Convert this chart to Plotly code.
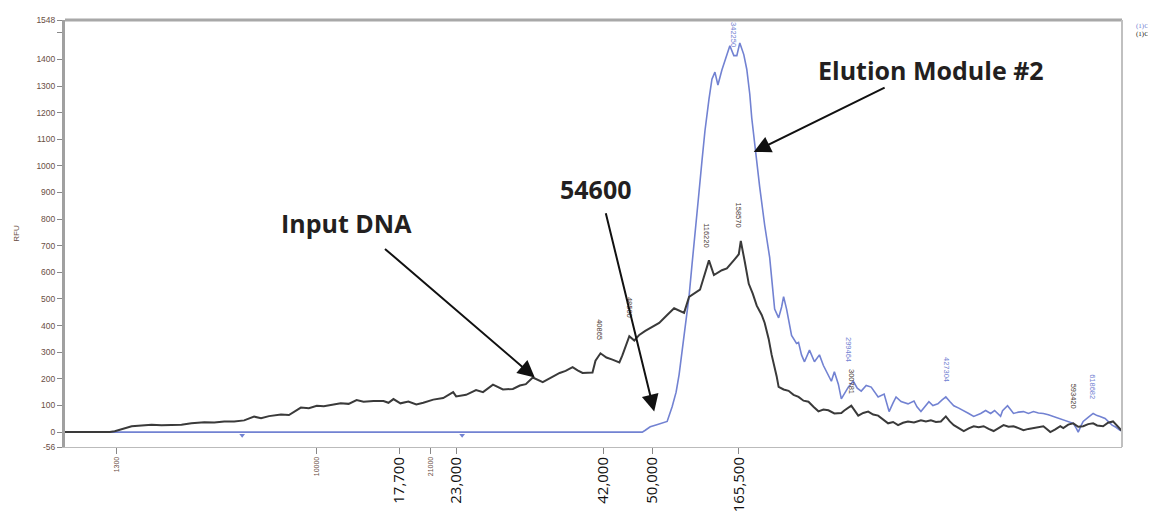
import plotly.graph_objects as go

# ---- data: x in scan units, y in RFU ----
input_scan = [0, 45, 50, 57, 67, 77, 87, 97, 107, 117, 127, 140, 150, 160, 170, 180, 190, 197, 205,
              217, 225, 237, 245, 253, 260, 270, 277, 285, 293, 300, 310, 320, 325, 330, 337, 345,
              353, 360, 370, 380, 390, 393, 403, 413, 420, 430, 440, 450, 457, 463, 470, 480, 488,
              497, 503, 510, 515, 520, 530, 533, 538, 544, 550, 557, 560, 567, 572, 577, 583, 590,
              597, 605, 612, 622, 627, 638, 643, 647, 652, 660, 665, 668, 673, 677, 679, 683, 687,
              691, 695, 700, 703, 707, 710, 715, 717, 722, 727, 732, 737, 742, 747, 752, 757, 762,
              767, 773, 780, 783, 790, 797, 802, 807, 812, 817, 822, 827, 832, 837, 842, 847, 853,
              860, 865, 870, 875, 880, 885, 889, 893, 898, 903, 908, 913, 918, 923, 928, 933, 938,
              943, 948, 953, 958, 963, 968, 973, 978, 983, 987, 990, 995, 1000, 1003, 1008, 1013,
              1018, 1023, 1028, 1033, 1037, 1043, 1048, 1053, 1057, 1062]
input_rfu = [0, 0, 3, 12, 22, 25, 28, 26, 27, 28, 33, 37, 36, 40, 40, 44, 58, 52, 60,
             66, 64, 92, 90, 99, 97, 104, 108, 106, 120, 114, 117, 117, 110, 124, 108, 115,
             104, 110, 122, 128, 150, 134, 140, 158, 150, 178, 160, 162, 175, 180, 205, 188, 205,
             222, 230, 244, 232, 222, 224, 268, 296, 280, 272, 262, 288, 360, 344, 365, 380, 395,
             410, 440, 465, 448, 508, 535, 600, 645, 590, 608, 615, 627, 650, 668, 718, 640, 557,
             520, 475, 440, 410, 350, 290, 210, 170, 160, 155, 140, 132, 118, 114, 95, 78, 85,
             82, 70, 72, 81, 99, 62, 72, 77, 66, 62, 48, 33, 38, 26, 35, 40, 36,
             44, 40, 44, 38, 40, 59, 40, 26, 15, 4, 14, 22, 18, 22, 12, 4, 15,
             26, 20, 22, 15, 7, 12, 15, 18, 22, 10, 0, 10, 22, 15, 28, 33,
             20, 22, 30, 33, 25, 22, 35, 40, 25, 4]

elution_scan = [0, 580, 583, 588, 593, 600, 605, 610, 614, 617, 620, 623, 627, 630, 633, 637, 640,
                643, 647, 650, 653, 656, 660, 663, 665, 668, 672, 675, 678, 682, 685, 688, 690, 695,
                698, 703, 708, 711, 713, 717, 720, 722, 725, 730, 735, 737, 740, 743, 748, 753, 758,
                762, 765, 770, 773, 777, 780, 784, 787, 792, 796, 800, 805, 810, 814, 817, 823, 828,
                832, 835, 840, 847, 853, 856, 860, 865, 868, 872, 877, 881, 885, 889, 893, 898, 903,
                908, 913, 920, 925, 930, 934, 937, 940, 942, 947, 950, 953, 958, 963, 968, 973, 978,
                983, 988, 993, 998, 1003, 1008, 1013, 1016, 1018, 1021, 1023, 1028, 1033, 1037,
                1040, 1045, 1048, 1052, 1056, 1060, 1062]
elution_rfu = [0, 0, 7, 20, 26, 33, 40, 95, 150, 216, 300, 388, 510, 630, 760, 901, 1020,
               1132, 1250, 1326, 1352, 1304, 1360, 1395, 1418, 1451, 1414, 1414, 1462, 1418, 1363, 1270, 1180, 1011,
               920, 777, 656, 540, 462, 429, 470, 509, 462, 363, 333, 337, 290, 264, 308, 264, 290,
               250, 227, 191, 227, 180, 125, 150, 169, 191, 165, 154, 175, 169, 150, 132, 143, 77,
               110, 132, 115, 106, 117, 95, 77, 100, 114, 100, 106, 120, 132, 115, 99, 90, 81,
               70, 59, 70, 81, 70, 81, 70, 59, 80, 99, 85, 70, 75, 77, 70, 77, 72,
               70, 65, 59, 50, 44, 38, 33, 15, 0, 25, 40, 55, 70, 62,
               59, 51, 40, 26, 18, 7, 5]
n = min(len(elution_scan), len(elution_rfu))
elution_scan, elution_rfu = elution_scan[:n], elution_rfu[:n]

size_tick_pos = [52, 253, 336, 367, 393, 541, 590, 677]
size_small_labels = ["1300", "10000", "", "21000", "", "", "", ""]
size_big_labels = ["", "", "17,700", "", "23,000", "42,000", "50,000", "165,500"]

y_ticks = [-56, 0, 100, 200, 300, 400, 500, 600, 700, 800, 900, 1000, 1100, 1200, 1300, 1400, 1500, 1548]
y_tick_labels = ["-56", "0", "100", "200", "300", "400", "500", "600", "700", "800", "900", "1000",
                 "1100", "1200", "1300", "1400", "", "1548"]

peak_labels = ["342250", "116220", "158570", "40865", "48500", "299464", "300781", "427304", "593420", "618682"]
peak_scan = [671, 645, 677, 537, 567, 787, 790, 885, 1013, 1033]
peak_rfu = [1492, 740, 814, 385, 469, 311, 191, 234, 136, 172]
peak_series = ["e", "i", "i", "i", "i", "e", "i", "e", "i", "e"]

blue_marks_scan = [178, 399]
blue_marks_rfu = [-12, -12]

BLUE = "#7282d2"
BLACK = "#3a3a3a"
LABEL = "#6a4e44"

fig = go.Figure()
fig.add_trace(go.Scatter(x=elution_scan, y=elution_rfu, mode="lines",
                         line=dict(color=BLUE, width=1.6), showlegend=False, hoverinfo="skip"))
fig.add_trace(go.Scatter(x=input_scan, y=input_rfu, mode="lines",
                         line=dict(color=BLACK, width=2), showlegend=False, hoverinfo="skip"))
fig.add_trace(go.Scatter(x=blue_marks_scan, y=blue_marks_rfu, mode="markers",
                         marker=dict(symbol="triangle-down", size=5, color=BLUE),
                         showlegend=False, hoverinfo="skip"))
fig.add_trace(go.Scatter(x=[0], y=[0], xaxis="x2", mode="markers",
                         marker=dict(opacity=0), showlegend=False, hoverinfo="skip"))

annotations = []
for t, px, py, s in zip(peak_labels, peak_scan, peak_rfu, peak_series):
    annotations.append(dict(x=px, y=py, xref="x", yref="y", text=t, showarrow=False,
                            textangle=90, font=dict(size=7.5, color=BLUE if s == "e" else "#4a3a35",
                                                    family="Liberation Sans Narrow, Arial")))

big = dict(family="Open Sans", size=25, color="#231f20")
arrow = dict(xref="x", yref="y", axref="x", ayref="y", text="", showarrow=True,
             arrowhead=2, arrowsize=1.7, arrowwidth=2, arrowcolor="#111")
annotations += [
    dict(x=870, y=1360, xref="x", yref="y", text="<b>Elution Module #2</b>", showarrow=False, font=big),
    dict(x=533, y=913, xref="x", yref="y", text="<b>54600</b>", showarrow=False, font=big),
    dict(x=283, y=784, xref="x", yref="y", text="<b>Input DNA</b>", showarrow=False, font=big),
    dict(x=692, y=1052, ax=825, ay=1297, **arrow),
    dict(x=592, y=77, ax=543, ay=828, **arrow),
    dict(x=472, y=205, ax=320, ay=693, **arrow),
    dict(x=1.011, y=1.0, xref="paper", yref="paper", text="(1)C", showarrow=False, xanchor="left",
         yanchor="top", font=dict(size=7, color=BLUE, family="Liberation Sans Narrow")),
    dict(x=1.011, y=0.982, xref="paper", yref="paper", text="(1)C", showarrow=False, xanchor="left",
         yanchor="top", font=dict(size=7, color="#222", family="Liberation Sans Narrow")),
]

fig.update_layout(
    width=1148, height=511,
    margin=dict(l=52, r=34, t=7, b=64),
    paper_bgcolor="white", plot_bgcolor="white",
    font=dict(family="Liberation Sans"),
    xaxis=dict(range=[0, 1062], tickmode="array", tickvals=size_tick_pos, ticktext=size_small_labels,
               tickangle=-90, ticks="outside", ticklen=6, tickcolor="#888", tickwidth=1,
               tickfont=dict(size=7, color=LABEL), showgrid=False, zeroline=False,
               showline=True, linecolor="#bbb", linewidth=1),
    xaxis2=dict(range=[0, 1062], overlaying="x", side="bottom", anchor="y", tickmode="array",
                tickvals=size_tick_pos, ticktext=size_big_labels, tickangle=-90, ticks="",
                ticklabelstandoff=6,
                tickfont=dict(size=15, color="#111", family="Open Sans"), showgrid=False,
                zeroline=False, showline=False),
    yaxis=dict(range=[-56, 1548], tickmode="array", tickvals=y_ticks, ticktext=y_tick_labels,
               ticks="outside", ticklen=5, tickcolor="#888", tickfont=dict(size=8.5, color=LABEL),
               showgrid=False, zeroline=False, showline=True, linecolor="#a0a0a0", linewidth=3,
               title=dict(text="RFU", font=dict(size=8, color=LABEL), standoff=16)),
    annotations=annotations,
    shapes=[
        dict(type="line", xref="paper", yref="paper", x0=0, x1=1, y0=1, y1=1,
             line=dict(color="#a8a8a8", width=3)),
        dict(type="line", xref="paper", yref="paper", x0=1, x1=1, y0=0, y1=1,
             line=dict(color="#c0c0c0", width=2)),
    ],
)

fig.write_html("out.html")
